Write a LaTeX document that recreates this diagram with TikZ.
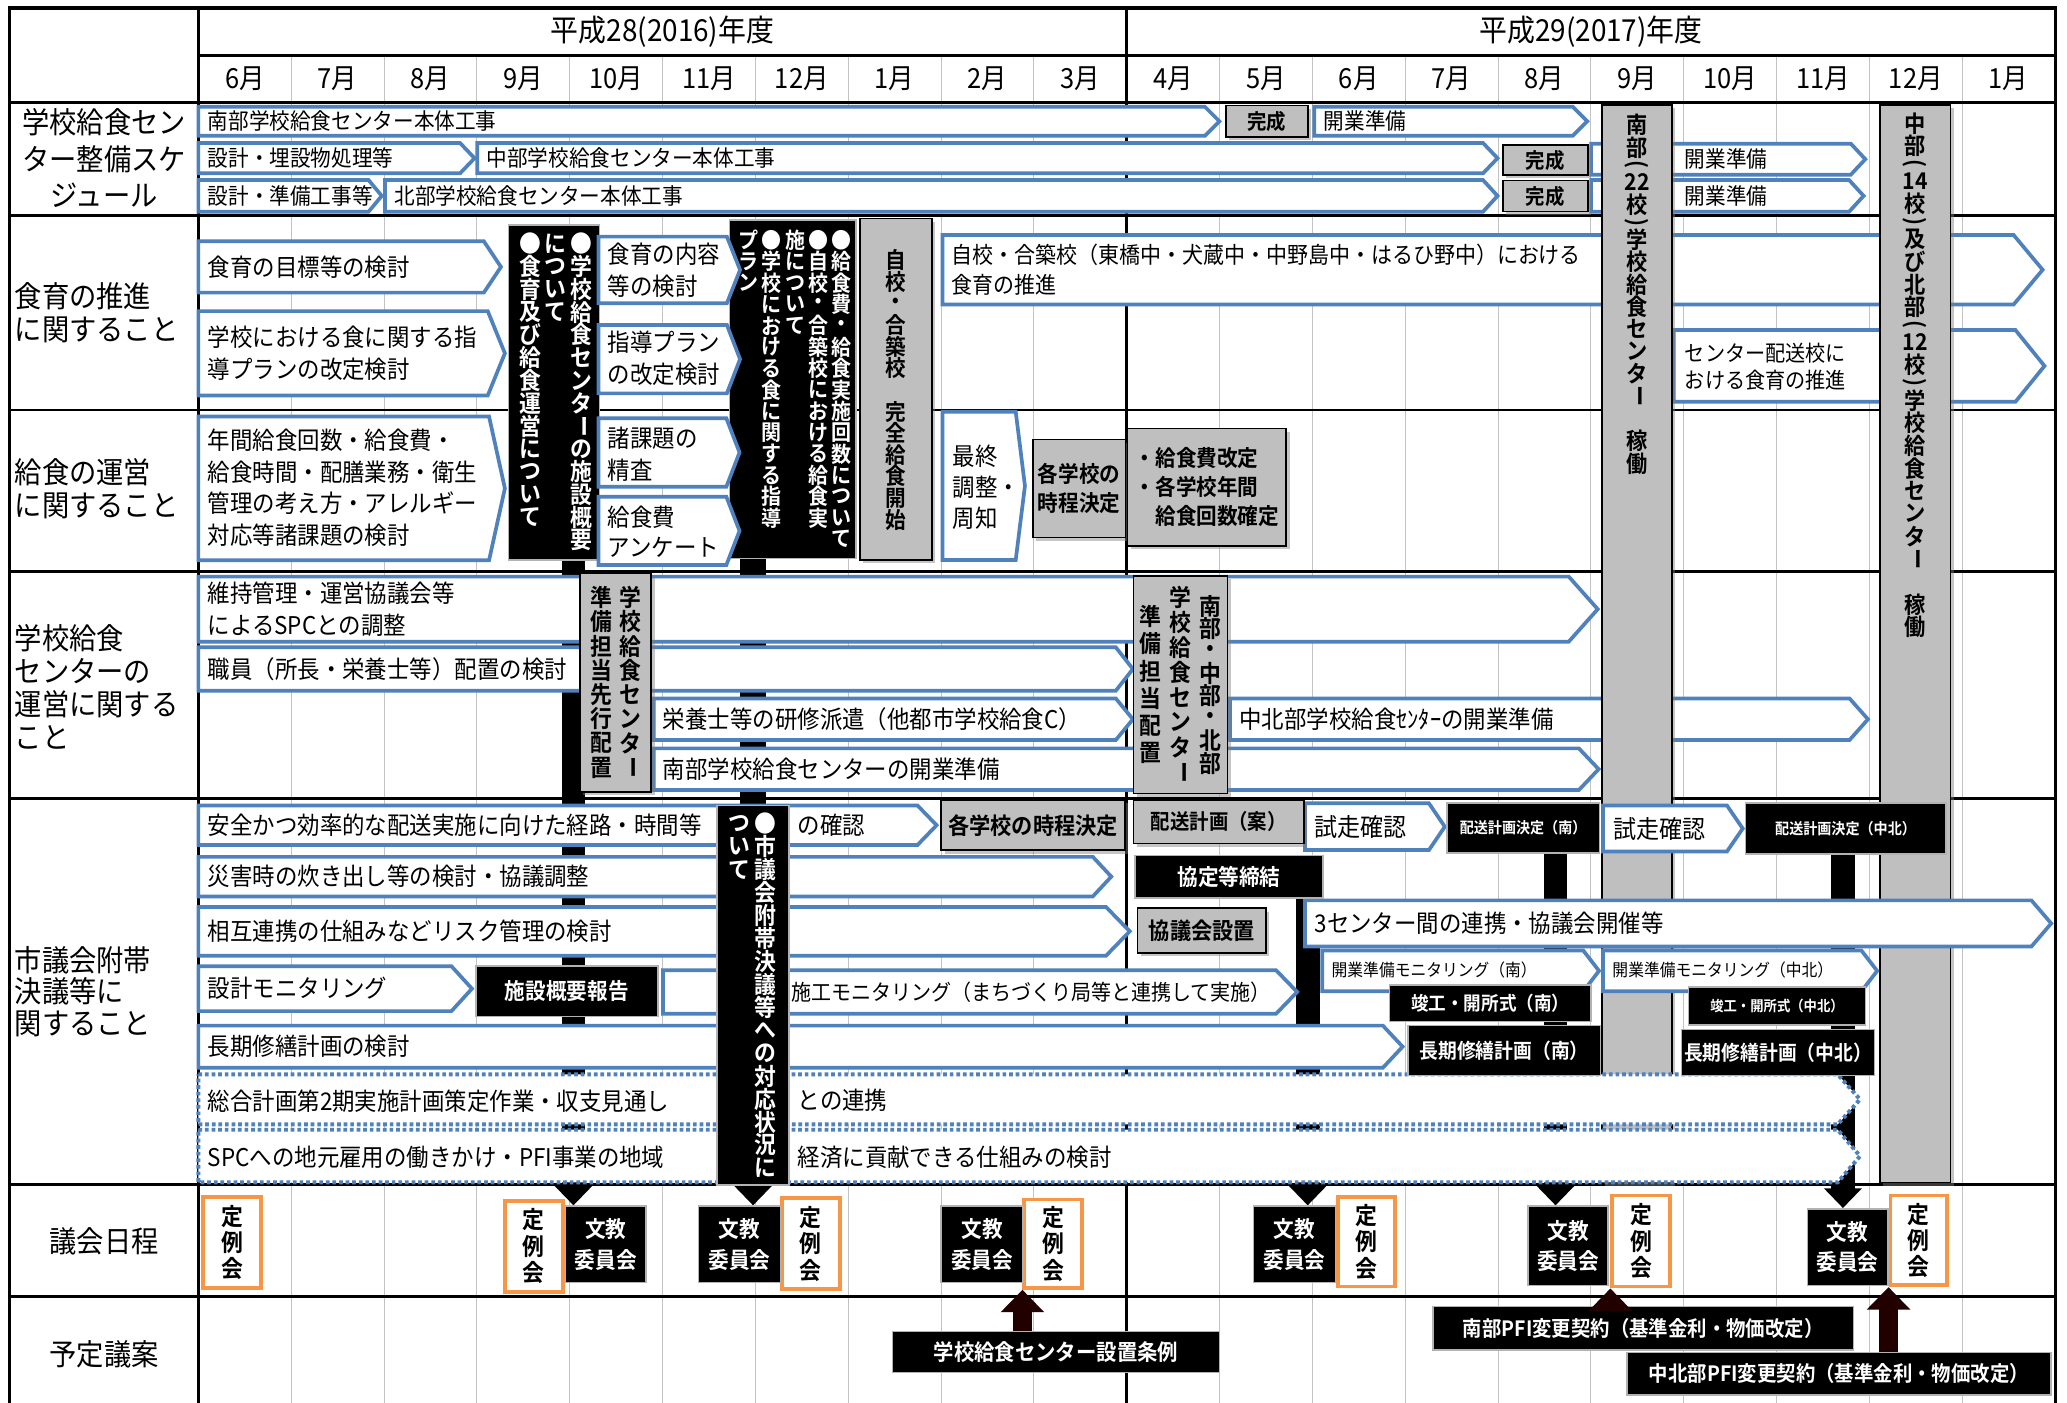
\documentclass[tikz,border=0pt]{standalone}
\usepackage{fontspec}
\usepackage{graphicx}
\setmainfont{Noto Sans CJK JP}[FakeStretch=0.92,BoldFont={Noto Sans CJK JP Bold}]
\usetikzlibrary{shadows,arrows.meta}
\definecolor{bblue}{RGB}{79,129,189}
\definecolor{gboxc}{RGB}{191,191,191}
\definecolor{orng}{RGB}{247,150,70}
\definecolor{gridc}{RGB}{195,195,195}
\definecolor{darr}{RGB}{35,0,0}
\pgfdeclarelayer{gridl}
\pgfdeclarelayer{connl}
\pgfsetlayers{gridl,connl,main}
\newdimen\vtsk
\def\vtW{1.1em}
\def\vtEnd{vtEnd}
\def\vP{vP}
\def\vQ{vQ}
\def\vL{\rotatebox{-90}{ー}}
\def\vtFull#1{\hbox to \vtW{\hss\vbox to \vtsk{\vss\hbox{#1}\vss}\hss}}
\def\vtHalf#1{\hbox to \vtW{\hss\vbox to .55\vtsk{\vss\hbox{#1}\vss}\hss}}
\def\vtA#1{\ifx\vtEnd#1\else\ifx\vP#1\vtHalf{\rotatebox{-90}{(}}\else\ifx\vQ#1\vtHalf{\rotatebox{-90}{)}}\else\vtFull{#1}\fi\fi\expandafter\vtA\fi}
\newcommand\vlist[2]{\offinterlineskip\vtsk=#1\relax\vtA#2\vtEnd}
\newcommand\chev[6]{\path[#1] (#2,#4) -- ({#3-#6},#4) -- (#3,{(#4+#5)/2}) -- ({#3-#6},#5) -- (#2,#5) -- cycle;}
\newcommand\boxat[7]{\node[#1,minimum width={#5-#3},minimum height={#6-#4},inner sep=0pt] (#2) at ({(#3+#5)/2},{(#4+#6)/2}) {#7};}
\tikzset{
 barline/.style={draw=bblue,line width=2.8pt,fill=white,line join=miter,miter limit=10},
 dotbar/.style={draw=bblue,line width=3pt,fill=white,dash pattern=on 2.8pt off 2.2pt},
 btxt/.style={anchor=west,inner sep=0pt,align=left,font=\fontsize{18.5}{24}\selectfont},
 stxt/.style={btxt,font=\fontsize{17}{20}\selectfont},
 gbox/.style={rectangle,fill=gboxc,draw=black,line width=1.2pt,align=center,font=\bfseries\fontsize{17}{22}\selectfont,drop shadow={shadow xshift=2.5pt,shadow yshift=-2.5pt,opacity=0.45}},
 kbox/.style={rectangle,fill=black,draw=gray!60,line width=1.2pt,text=white,align=center,font=\bfseries\fontsize{17}{23}\selectfont},
 obox/.style={rectangle,fill=white,draw=orng,line width=2.8pt},
 gridline/.style={draw=gridc,line width=0.8pt},
 secline/.style={draw=black,line width=2.2pt},
 dnconn/.style={draw=black,line width=18pt,-{Triangle[width=28pt,length=15pt]}},
 dnbar/.style={draw=black,line width=20pt},
 uparr/.style={draw=darr,line width=14pt,-{Triangle[width=32pt,length=17pt]}},
 vtx/.style={inner sep=0pt,anchor=north},
 vtc/.style={inner sep=0pt,anchor=center},
 mtxt/.style={inner sep=0pt,font=\fontsize{21}{21}\selectfont},
 ytxt/.style={inner sep=0pt,font=\fontsize{23}{23}\selectfont},
 ltxt/.style={inner sep=0pt,font=\fontsize{22.5}{25}\selectfont},
}
\newcommand\teirei[5]{\boxat{obox}{#1}{#2}{#3}{#4}{#5}{}\node[vtc,font=\bfseries\fontsize{18}{18}\selectfont] (#1t) at (#1.center) {\vbox{\vlist{20pt}{定例会}}};}
\begin{document}
\begin{tikzpicture}[x=1pt,y=-1pt]
\useasboundingbox (0,0) rectangle (1568,1064);
\begin{pgfonlayer}{gridl}
\fill[white] (0,0) rectangle (1568,1064);
\foreach \k in {1,...,19}{\draw[gridline] ({150.5+70.42*\k},42) -- ({150.5+70.42*\k},1064);}
\foreach \y in {78,163.5,311,433.5,605.5,898.5,983.5}{\draw[secline] (7,\y) -- (1559,\y);}
\draw[secline] (150.5,42) -- (1559,42);
\draw[secline] (150.5,6) -- (150.5,1064);
\draw[secline] (854.7,6) -- (854.7,1064);
\draw[line width=2.5pt] (7,1064) -- (7,6) -- (1559,6) -- (1559,1064);
\end{pgfonlayer}
% header
\node[ytxt] (y28) at (502.6,24) {平成28(2016)年度};
\node[ytxt] (y29) at (1206.9,24) {平成29(2017)年度};
\foreach \m [count=\k from 0] in {6,7,8,9,10,11,12,1,2,3,4,5,6,7,8,9,10,11,12,1}{\node[mtxt] (m\k) at ({150.5+70.42*(\k+0.5)},60) {\m{}月};}
% row labels
\node[ltxt,align=center,font=\fontsize{22.5}{27.5}\selectfont] (lab1) at (79,120) {学校給食セン\\ター整備スケ\\ジュール};
\node[ltxt,anchor=west,align=left] (lab2) at (11,237.5) {食育の推進\\に関すること};
\node[ltxt,anchor=west,align=left] (lab3) at (11,370.5) {給食の運営\\に関すること};
\node[ltxt,anchor=west,align=left] (lab4) at (11,521) {学校給食\\センターの\\運営に関する\\こと};
\node[ltxt,anchor=west,align=left,font=\fontsize{22.5}{24}\selectfont] (lab5) at (11,752) {市議会附帯\\決議等に\\関すること};
\node[ltxt] (lab6) at (79,942) {議会日程};
\node[ltxt] (lab7) at (79,1027) {予定議案};
% section 1
\chev{barline}{150.5}{925}{81}{103}{11}
\node[stxt] (s1a) at (157.5,92) {南部学校給食センター本体工事};
\chev{barline}{997}{1204}{81}{103}{11}
\node[stxt] (s1b) at (1004,92) {開業準備};
\chev{barline}{150.5}{360}{108.5}{131.5}{11}
\node[stxt] (s1c) at (157.5,120) {設計・埋設物処理等};
\chev{barline}{362}{1136}{108.5}{131.5}{11}
\node[stxt] (s1d) at (369,120) {中部学校給食センター本体工事};
\chev{barline}{1207}{1415}{109}{132.5}{11}
\node[stxt] (s1e) at (1278,120.7) {開業準備};
\chev{barline}{150.5}{289.6}{136.6}{160.6}{10}
\node[stxt] (s1f) at (157.5,148.6) {設計・準備工事等};
\chev{barline}{292}{1136}{136.6}{160.6}{11}
\node[stxt] (s1g) at (299,148.6) {北部学校給食センター本体工事};
\chev{barline}{1207}{1413.7}{136.6}{160.6}{11}
\node[stxt] (s1h) at (1278,148.6) {開業準備};
\boxat{gbox,font=\bfseries\fontsize{16}{18}\selectfont}{kan1}{930}{80}{992}{104}{完成}
\boxat{gbox,font=\bfseries\fontsize{16}{18}\selectfont}{kan2}{1140}{110}{1204.6}{132.8}{完成}
\boxat{gbox,font=\bfseries\fontsize{16}{18}\selectfont}{kan3}{1140}{137}{1204.6}{160.6}{完成}
% sections 2-3
\boxat{kbox}{kb1}{385.6}{170.7}{454.7}{424.8}{}
\node[vtx,text=white,font=\bfseries\fontsize{18}{18}\selectfont] (kb1t) at (421.5,176) {\def\vtW{19.5pt}\hbox{\vtop{\vlist{17.3pt}{●食育及び給食運営について}}\vtop{\vlist{17.3pt}{について}}\vtop{\vlist{17.3pt}{●学校給食センタ\vL の施設概要}}}};
\boxat{kbox}{kb2}{553.3}{166.9}{649.4}{423.6}{}
\node[vtx,text=white,font=\bfseries\fontsize{16.5}{16.5}\selectfont] (kb2t) at (603.1,174) {\def\vtW{17.7pt}\hbox{\vtop{\vlist{16.2pt}{プラン}}\vtop{\vlist{16.2pt}{●学校における食に関する指導}}\vtop{\vlist{16.2pt}{施について}}\vtop{\vlist{16.2pt}{●自校・合築校における給食実}}\vtop{\vlist{16.2pt}{●給食費・給食実施回数について}}}};
\chev{barline}{150.5}{380}{183}{222}{13}
\node[btxt] (s2a) at (157.5,202.5) {食育の目標等の検討};
\chev{barline}{150.5}{383}{236}{300}{13}
\node[btxt] (s2b) at (157.5,268) {学校における食に関する指\\導プランの改定検討};
\chev{barline}{150.5}{383}{316}{425}{12}
\node[btxt] (s3a) at (157.5,370) {年間給食回数・給食費・\\給食時間・配膳業務・衛生\\管理の考え方・アレルギー\\対応等諸課題の検討};
\chev{barline}{454}{561.4}{179.5}{230}{10}
\node[btxt] (s2c) at (461,204.8) {食育の内容\\等の検討};
\chev{barline}{454}{561.4}{246.5}{298.4}{10}
\node[btxt] (s2d) at (461,271.8) {指導プラン\\の改定検討};
\chev{barline}{454}{561}{317.3}{369.2}{10}
\node[btxt] (s3b) at (461,344.5) {諸課題の\\精査};
\chev{barline}{454}{561}{376.8}{428.6}{10}
\node[btxt,font=\fontsize{18.5}{23}\selectfont] (s3c) at (461,403.4) {給食費\\アンケート};
\boxat{gbox}{jiko}{652.4}{165.6}{706.8}{424.8}{}
\node[vtx,font=\bfseries\fontsize{17}{17}\selectfont] (jikot) at (679.6,189) {\vbox{\vlist{16.4pt}{自校・合築校　完全給食開始}}};
\chev{barline}{715}{1549.5}{178.3}{231}{22}
\node[btxt,font=\fontsize{17.3}{23}\selectfont] (s2e) at (721.6,204.8) {自校・合築校（東橋中・犬蔵中・中野島中・はるひ野中）における\\食育の推進};
\chev{barline}{1269.6}{1550.9}{250.4}{304.8}{22}
\node[btxt,font=\fontsize{16.6}{21}\selectfont] (s2f) at (1278,278.2) {センター配送校に\\おける食育の推進};
\chev{barline}{715}{777.5}{312.3}{424.8}{7}
\node[btxt,font=\fontsize{18.5}{23.5}\selectfont] (s3d) at (722.5,369.5) {最終\\調整・\\周知};
\boxat{gbox}{jitei1}{783.6}{333.3}{853.7}{407.6}{各学校の\\時程決定}
\boxat{gbox,align=left}{kaitei}{855.4}{325}{975.7}{414}{・給食費改定\\・各学校年間\\　給食回数確定}
% section 4
\chev{barline}{150.5}{1212}{437.4}{486.8}{22}
\node[btxt] (s4a) at (157.5,462) {維持管理・運営協議会等\\によるSPCとの調整};
\chev{barline}{150.5}{859.4}{491}{524}{13}
\node[btxt] (s4b) at (157.5,507.5) {職員（所長・栄養士等）配置の検討};
\chev{barline}{496}{859.4}{529.8}{561.4}{13}
\node[btxt] (s4c) at (502.7,545.6) {栄養士等の研修派遣（他都市学校給食C）};
\chev{barline}{496}{1212.7}{567.7}{599.3}{15}
\node[btxt] (s4d) at (502.7,583.5) {南部学校給食センターの開業準備};
\chev{barline}{933}{1417}{529.8}{561.4}{14}
\node[btxt] (s4e) at (940,545.6) {中北部学校給食ｾﾝﾀｰの開業準備};
\boxat{gbox}{senko}{440}{435}{494}{600.6}{}
\node[vtc,font=\bfseries\fontsize{18}{18}\selectfont] (senkot) at (senko.center) {\def\vtW{22pt}$\vcenter{\vlist{18.4pt}{準備担当先行配置}}\vcenter{\vlist{18.4pt}{学校給食センタ\vL}}$};
\boxat{gbox}{haichi}{860}{437}{931}{602}{}
\node[vtc,font=\bfseries\fontsize{18}{18}\selectfont] (haichit) at (haichi.center) {\def\vtW{22.8pt}$\vcenter{\vlist{20.7pt}{準備担当配置}}\vcenter{\vlist{19pt}{学校給食センタ\vL}}\vcenter{\vlist{17pt}{南部・中部・北部}}$};
% section 5 (below columns)
\chev{barline}{150.5}{710.5}{611}{641}{14.5}
\node[btxt] (s5a) at (157.5,626) {安全かつ効率的な配送実施に向けた経路・時間等};
\node[btxt] (s5a2) at (605,626) {の確認};
\chev{barline}{150.5}{843}{650}{680}{14}
\node[btxt] (s5b) at (157.5,665) {災害時の炊き出し等の検討・協議調整};
\chev{barline}{150.5}{857}{688}{725}{18}
\node[btxt] (s5c) at (157.5,706.5) {相互連携の仕組みなどリスク管理の検討};
\chev{barline}{150.5}{358}{733}{767}{15.5}
\node[btxt] (s5d) at (157.5,750) {設計モニタリング};
\chev{barline}{503}{984}{736}{769}{16}
\node[btxt,font=\fontsize{16.5}{20}\selectfont] (s5e) at (600,752.5) {施工モニタリング（まちづくり局等と連携して実施）};
\chev{barline}{150.5}{1064}{778}{810}{15}
\node[btxt] (s5f) at (157.5,794) {長期修繕計画の検討};
\chev{barline}{990}{1096}{609.4}{644.8}{12}
\node[btxt,font=\fontsize{19}{24}\selectfont] (s5g) at (997,627) {試走確認};
\chev{barline}{1003}{1213}{721}{752}{12}
\node[btxt,font=\fontsize{13}{16}\selectfont] (s5j) at (1010,736) {開業準備モニタリング（南）};
% gray columns
\boxat{gbox}{nanbu}{1215.3}{79.7}{1268.2}{897}{}
\node[vtx,font=\bfseries\fontsize{17.5}{17.5}\selectfont] (nanbut) at (1241.8,86.3) {\vbox{\vlist{17pt}{南部\vP{22}校\vQ 学校給食センタ\vL　稼働}}};
\boxat{gbox}{chubu}{1426}{79.7}{1479.5}{897}{}
\node[vtx,font=\bfseries\fontsize{17.5}{17.5}\selectfont] (chubut) at (1452.8,85) {\vbox{\vlist{17.2pt}{中部\vP{14}校\vQ 及び北部\vP{12}校\vQ 学校給食センタ\vL　稼働}}};
% section 5 (above columns)
\chev{barline}{1216}{1322}{611}{646}{12}
\node[btxt,font=\fontsize{19}{24}\selectfont] (s5h) at (1224,628.5) {試走確認};
\boxat{kbox,font=\bfseries\fontsize{11.6}{14}\selectfont}{haisoC}{1324}{609}{1476}{648}{配送計画決定（中北）}
\chev{barline}{990}{1556}{683}{718}{15}
\node[btxt] (s5i) at (997,700.5) {3センター間の連携・協議会開催等};
\chev{barline}{1216}{1424}{721}{752}{12}
\node[btxt,font=\fontsize{13}{16}\selectfont] (s5k) at (1223,736) {開業準備モニタリング（中北）};
\chev{dotbar}{150.5}{1411}{815}{853}{17}
\node[btxt] (d1a) at (157.5,835) {総合計画第2期実施計画策定作業・収支見通し};
\node[btxt] (d1b) at (605,835) {との連携};
\chev{dotbar}{150.5}{1411}{857}{897}{17}
\node[btxt] (d2a) at (157.5,878) {SPCへの地元雇用の働きかけ・PFI事業の地域};
\node[btxt] (d2b) at (605,878) {経済に貢献できる仕組みの検討};
\boxat{kbox}{fukutai}{544}{611}{598.5}{899}{}
\node[vtx,text=white,font=\bfseries\fontsize{18}{18}\selectfont] (fukutait) at (570.75,616) {\def\vtW{19.5pt}\hbox{\vtop{\vlist{17.4pt}{ついて}}\vtop{\vlist{17.4pt}{●市議会附帯決議等への対応状況に}}}};
\boxat{kbox}{gaiyo}{361}{733}{499}{771}{施設概要報告}
\boxat{kbox}{kyotei}{861}{649}{1003.5}{681}{協定等締結}
\boxat{kbox,font=\bfseries\fontsize{11.6}{14}\selectfont}{haisoS}{1097.5}{609}{1213.3}{647}{配送計画決定（南）}
\boxat{kbox,font=\bfseries\fontsize{14.5}{16}\selectfont}{shunS}{1054}{747}{1207}{775}{竣工・開所式（南）}
\boxat{kbox,font=\bfseries\fontsize{11}{14}\selectfont}{shunC}{1281}{748.5}{1415}{777.6}{竣工・開所式（中北）}
\boxat{kbox,font=\bfseries\fontsize{15.5}{18}\selectfont}{choS}{1068}{778}{1214}{816}{長期修繕計画（南）}
\boxat{kbox,font=\bfseries\fontsize{15.5}{18}\selectfont}{choC}{1275.6}{781}{1422}{816}{長期修繕計画（中北）}
\boxat{gbox,font=\bfseries\fontsize{17.5}{20}\selectfont}{jitei2}{714}{607}{853.5}{645}{各学校の時程決定}
\boxat{gbox,font=\bfseries\fontsize{16}{20}\selectfont}{haisoan}{860}{607}{989}{640}{配送計画（案）}
\boxat{gbox,font=\bfseries\fontsize{17.5}{20}\selectfont}{kyogikai}{863}{689}{960.5}{723}{協議会設置}
% section 6
\teirei{t1}{154}{908}{198}{977}
\teirei{t2}{383}{911}{427}{980}
\teirei{t3}{593}{909}{637}{978}
\teirei{t4}{777}{910}{821}{977}
\teirei{t5}{1015}{908}{1058}{976}
\teirei{t6}{1223}{907}{1267}{976}
\teirei{t7}{1434}{907}{1477}{975}
\boxat{kbox}{b1}{429}{915}{490}{973}{文教\\委員会}
\boxat{kbox}{b2}{530}{915}{592}{973}{文教\\委員会}
\boxat{kbox}{b3}{714}{915}{776}{973}{文教\\委員会}
\boxat{kbox}{b4}{951}{915}{1013}{973}{文教\\委員会}
\boxat{kbox}{b5}{1159}{915}{1220}{975}{文教\\委員会}
\boxat{kbox}{b6}{1371}{917}{1432}{975}{文教\\委員会}
% section 7
\boxat{kbox,font=\bfseries\fontsize{16.8}{20}\selectfont}{jorei}{677}{1010}{925}{1041}{学校給食センター設置条例}
\boxat{kbox,font=\bfseries\fontsize{16}{20}\selectfont}{pfiS}{1087}{991}{1406}{1024}{南部PFI変更契約（基準金利・物価改定）}
\boxat{kbox,font=\bfseries\fontsize{16}{20}\selectfont}{pfiC}{1234}{1026}{1556}{1058}{中北部PFI変更契約（基準金利・物価改定）}
\draw[uparr] (jorei.north -| t4.south west) -- (t4.south west);
\draw[uparr] (pfiS.north -| t6.south west) -- (t6.south west);
\draw[uparr] (pfiC.north -| t7.south west) -- (t7.south west);
% connectors (behind bars)
\begin{pgfonlayer}{connl}
\coordinate (c1s) at ([xshift=14.85pt]kb1.south);
\coordinate (c3s) at ([xshift=59.75pt]kyotei.south);
\coordinate (c4s) at ([xshift=24.6pt]haisoS.south);
\coordinate (c5s) at ([xshift=-2pt]haisoC.south);
\draw[dnconn] (c1s) -- (c1s |- b1.north);
\draw[dnbar] (kb2.south -| fukutai.north) -- (fukutai.north);
\draw[dnconn] (fukutai.south) -- (fukutai.south |- b2.north);
\draw[dnconn] (c3s) -- (c3s |- b4.north);
\draw[dnconn] (c4s) -- (c4s |- b5.north);
\draw[dnconn] (c5s) -- (c5s |- b6.north);
\end{pgfonlayer}
\end{tikzpicture}
\end{document}
